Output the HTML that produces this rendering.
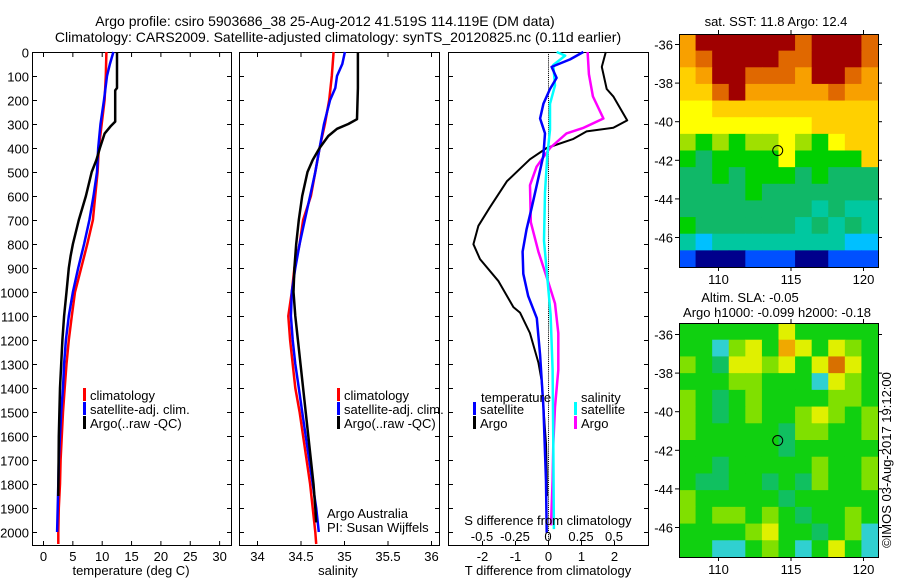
<!DOCTYPE html>
<html><head><meta charset="utf-8">
<style>
html,body{margin:0;padding:0;background:#fff;}
svg{display:block;font-family:"Liberation Sans",sans-serif;}
text{font-size:13px;fill:#000;}
</style></head>
<body>
<svg id="chart" width="900" height="580" viewBox="0 0 900 580" xmlns="http://www.w3.org/2000/svg">
<text x="325" y="26" text-anchor="middle" style="font-size:14px">Argo profile: csiro 5903686_38 25-Aug-2012 41.519S 114.119E (DM data)</text>
<text x="338" y="42" text-anchor="middle" style="font-size:14px">Climatology: CARS2009. Satellite-adjusted climatology: synTS_20120825.nc (0.11d earlier)</text>
<g id="g"></g>
</svg>
<script>
// ---- depth axis ----
const depthTicks=[0,100,200,300,400,500,600,700,800,900,1000,1100,1200,1300,1400,1500,1600,1700,1800,1900,2000];
// ---- temperature panel ----
const tempTicks=[0,5,10,15,20,25,30];
const tClimD=[0,100,200,300,400,500,600,700,800,900,1000,1100,1200,1300,1400,1500,1600,1700,1800,1900,2000,2050];
const tClimV=[10.8,10.7,10.5,10.0,9.5,9.3,8.9,8.5,7.55,6.5,5.45,4.9,4.4,4.0,3.7,3.4,3.2,3.0,2.9,2.7,2.6,2.6];
const tSatD=[0,50,100,200,300,400,500,600,700,800,900,1000,1100,1200,1300,1400,1500,1600,1700,1800,1900,2000];
const tSatV=[12.0,11.4,10.9,10.4,9.8,9.4,9.2,8.6,7.9,7.0,6.0,5.1,4.4,3.9,3.6,3.4,3.1,2.9,2.7,2.6,2.5,2.4];
const tArgD=[0,150,160,290,310,340,400,450,500,600,700,800,850,900,1000,1100,1200,1300,1400,1500,1600,1700,1850];
const tArgV=[12.6,12.6,12.3,12.3,11.5,10.5,9.7,9.1,8.3,7.3,6.1,5.1,4.7,4.4,4.0,3.6,3.3,3.1,2.9,2.8,2.7,2.65,2.6];
// ---- salinity panel ----
const salTicks=[34,34.5,35,35.5,36];
const sClimD=[0,100,200,300,400,500,600,700,800,900,1000,1100,1200,1300,1400,1500,1600,1700,1800,1900,2000,2050];
const sClimV=[34.88,34.86,34.83,34.78,34.72,34.67,34.62,34.53,34.49,34.43,34.40,34.36,34.38,34.41,34.44,34.49,34.53,34.57,34.61,34.64,34.67,34.68];
const sSatD=[0,50,100,150,200,300,400,500,600,700,800,900,1000,1100,1200,1300,1400,1500,1600,1700,1800,1900,2000];
const sSatV=[35.01,34.98,34.92,34.90,34.84,34.77,34.72,34.67,34.61,34.55,34.49,34.44,34.40,34.39,34.41,34.44,34.48,34.52,34.56,34.60,34.64,34.68,34.71];
const sArgD=[0,150,280,300,320,350,400,450,500,600,700,800,900,1000,1100,1200,1300,1400,1500,1600,1700,1800,1900,1960];
const sArgV=[35.16,35.16,35.15,35.05,34.92,34.82,34.72,34.64,34.58,34.52,34.48,34.45,34.43,34.42,34.44,34.47,34.50,34.53,34.56,34.59,34.62,34.65,34.67,34.68];
// ---- difference panel ----
const dTTicks=[-2,-1,0,1,2];
const dSTicks=[-0.5,-0.25,0,0.25,0.5];
const dTArgD=[0,62,154,185,285,316,331,362,400,447,539,647,724,801,863,955,1063,1086,1171,1294,1371,1479,1633,1741,1850];
const dTArgV=[1.75,1.63,1.78,1.98,2.4,1.98,1.17,0.77,-0.04,-0.55,-1.25,-1.76,-2.11,-2.26,-2.06,-1.5,-1.05,-0.85,-0.55,-0.29,-0.19,-0.14,-0.06,-0.04,-0.03];
const dTSatD=[0,31,62,108,154,216,277,339,431,524,647,740,832,924,1017,1109,1263,1479,1787,2003];
const dTSatV=[1.07,0.67,0.11,0.26,0.06,-0.14,-0.24,-0.09,-0.14,-0.29,-0.49,-0.65,-0.77,-0.75,-0.6,-0.34,-0.24,-0.14,-0.06,-0.04];
const dSArgD=[0,92,185,277,316,339,400,478,555,709,832,955,1048,1171,1325,1479,1633,1787,1972];
const dSArgV=[0.30,0.31,0.34,0.42,0.27,0.14,0.015,-0.086,-0.136,-0.13,-0.073,0,0.053,0.078,0.078,0.053,0.04,0.035,0.023];
const dSSatD=[0,15,54,139,216,324,431,585,786,940,1094,1325,1633,1988];
const dSSatV=[0.066,0.13,0.04,0.053,0.015,0.015,-0.005,-0.023,-0.03,-0.005,0.02,0.035,0.04,0.045];
// ---- maps ----
const lonTicks=[110,115,120];
const latTicks=[-36,-38,-40,-42,-44,-46];
const sstPalette=['#00008c','#0050ff','#00c0ff','#00c8a0','#10b868','#00d000','#a0e000','#ffff00','#ffd000','#f8a000','#e06800','#a00000'];
const sstGrid=[
[9,11,11,11,11,11,11,10,11,11,11,10],
[9,10,11,11,11,11,10,10,11,11,11,10],
[8,9,11,11,10,10,10,9,11,11,10,9],
[8,8,10,11,9,9,9,9,9,10,9,9],
[7,7,8,8,8,8,8,8,8,8,8,8],
[7,7,7,7,7,7,7,7,8,8,8,8],
[6,5,6,5,6,6,7,6,5,7,8,8],
[5,4,5,5,5,5,7,5,5,5,5,8],
[4,4,5,4,5,5,5,4,5,4,4,4],
[4,4,4,4,5,4,4,4,4,4,4,4],
[4,4,4,4,4,4,4,4,3,4,3,3],
[5,4,4,4,4,4,4,3,4,3,4,3],
[3,2,3,3,3,3,3,3,3,3,2,2],
[1,0,0,0,1,1,1,0,0,1,1,1]];
const slaPalette=['#30d0d0','#10c060','#10d010','#80e000','#e0f000','#f0a800','#d87000'];
const slaGrid=[
[2,2,2,2,2,2,4,2,2,2,2,2],
[2,2,0,3,4,2,5,4,2,4,3,2],
[3,2,1,4,4,3,4,2,4,6,4,2],
[2,2,2,3,3,2,2,2,0,4,3,2],
[3,2,1,2,3,2,2,2,2,3,3,2],
[3,2,1,2,3,2,2,3,4,3,2,3],
[3,2,2,2,2,2,1,3,3,2,2,3],
[2,2,2,2,2,2,1,2,2,2,2,2],
[2,2,1,2,2,2,2,2,3,2,2,3],
[2,1,1,2,2,1,2,1,3,2,2,3],
[3,2,2,2,2,2,1,2,2,2,2,2],
[3,2,3,3,2,3,2,1,2,2,3,2],
[2,2,2,2,3,4,2,2,1,2,3,0],
[2,2,0,0,2,3,2,0,2,4,2,0]];

const NS='http://www.w3.org/2000/svg';
const G=document.getElementById('g');
function mk(tag,attrs,parent){const e=document.createElementNS(NS,tag);for(const k in attrs)e.setAttribute(k,attrs[k]);(parent||G).appendChild(e);return e;}
function txt(x,y,s,anchor,parent){const t=mk('text',{x:x,y:y,'text-anchor':anchor||'start'},parent);t.textContent=s;return t;}

const TOP=52,BOT=545;
const yD=d=>TOP+d*0.24;
const xT=v=>43+v*5.87;
const xS=v=>257+(v-34)*87;
const xDT=v=>548+v*33;
const xDS=v=>548+v*132;

function panel(x0,x1,name,yLabels){
  const r=mk('rect',{x:x0+0.5,y:TOP+0.5,width:x1-x0,height:BOT-TOP,fill:'none',stroke:'#000','stroke-width':1});
  
  
  depthTicks.forEach(d=>{
    const y=yD(d)+0.5;
    mk('line',{x1:x0,y1:y,x2:x0+5,y2:y,stroke:'#000'});
    mk('line',{x1:x1-4,y1:y,x2:x1+1,y2:y,stroke:'#000'});
    if(yLabels){const t=txt(x0-3,y+5,String(d),'end');
      
      }
  });
}
function xticks(vals,fx,y,labelY,labels,top){
  vals.forEach((v,i)=>{const x=fx(v)+0.5;
    mk('line',{x1:x,y1:BOT-4,x2:x,y2:BOT+1,stroke:'#000'});
    if(top) mk('line',{x1:x,y1:TOP,x2:x,y2:TOP+5,stroke:'#000'});
    const t=txt(x,labelY,labels?labels[i]:String(v),'middle');
    
    
  });
}
function line(D,V,fx,color,w,name){
  const pts=D.map((d,i)=>fx(V[i]).toFixed(1)+','+yD(d).toFixed(1)).join(' ');
  const p=mk('polyline',{points:pts,fill:'none',stroke:color,'stroke-width':w,'stroke-linejoin':'round'});
  
  
}
function legendEntry(x,y,color,label,name){
  const g=mk('g',{});
  
  
  mk('rect',{x:x,y:y-10,width:3,height:13,fill:color},g);
  txt(x+7,y+2,label,'start',g);
}

// Panel 1
panel(32,231,'temperature-panel',true);
xticks(tempTicks,xT,0,561,null,true);
line(tClimD,tClimV,xT,'#ff0000',2.5,'temp-climatology-line');
line(tSatD,tSatV,xT,'#0000ff',2.5,'temp-satellite-line');
line(tArgD,tArgV,xT,'#000000',2.5,'temp-argo-line');
let t=txt(131,575,'temperature (deg C)','middle');
legendEntry(83,398,'#ff0000','climatology','legend-climatology');
legendEntry(83,412,'#0000ff','satellite-adj. clim.','legend-satellite');
legendEntry(83,426,'#000000','Argo(..raw -QC)','legend-argo');

// Panel 2
panel(239,439,'salinity-panel',false);
xticks(salTicks,xS,0,561,null,true);
line(sClimD,sClimV,xS,'#ff0000',2.5,'sal-climatology-line');
line(sSatD,sSatV,xS,'#0000ff',2.5,'sal-satellite-line');
line(sArgD,sArgV,xS,'#000000',2.5,'sal-argo-line');
t=txt(338,575,'salinity','middle');
legendEntry(337,398,'#ff0000','climatology','legend-climatology-2');
legendEntry(337,412,'#0000ff','satellite-adj. clim.','legend-satellite-2');
legendEntry(337,426,'#000000','Argo(..raw -QC)','legend-argo-2');
t=txt(327,518,'Argo Australia');
t=txt(327,532,'PI: Susan Wijffels');

// Panel 3
panel(448,648,'difference-panel',false);
xticks(dTTicks,xDT,0,561,null,false);
for(let d=0;d<=2050;d+=8){mk('rect',{x:xDT(0),y:yD(d),width:1,height:1,fill:'#000'});}
line(dTArgD,dTArgV,xDT,'#000000',2,'tdiff-argo-line');
line(dSArgD,dSArgV,xDS,'#ff00ff',2.5,'sdiff-argo-line');
line(dSSatD,dSSatV,xDS,'#00ffff',2.5,'sdiff-satellite-line');
line(dTSatD,dTSatV,xDT,'#0000ff',2.5,'tdiff-satellite-line');
dSTicks.forEach(v=>{const tt=txt(xDS(v),541,String(v),'middle');});
t=txt(548,525,'S difference from climatology','middle');
t=txt(548,575,'T difference from climatology','middle');
t=txt(481,402,'temperature');
t=txt(581,402,'salinity');
legendEntry(473,412,'#0000ff','satellite','legend-t-satellite');
legendEntry(473,426,'#000000','Argo','legend-t-argo');
legendEntry(574,412,'#00ffff','satellite','legend-s-satellite');
legendEntry(574,426,'#ff00ff','Argo','legend-s-argo');

// Maps
function map(y0,y1,grid,pal,name,latPx36,latPx46){
  const x0=679,x1=878,W=x1-x0,H=y1-y0;
  const rows=grid.length,cols=grid[0].length;
  const cw=W/cols,ch=H/rows;
  grid.forEach((row,r)=>row.forEach((c,k)=>{
    const cell=mk('rect',{x:(x0+k*cw).toFixed(2),y:(y0+r*ch).toFixed(2),width:(cw+0.6).toFixed(2),height:(ch+0.6).toFixed(2),fill:pal[c]});
    
    
  }));
  const fr=mk('rect',{x:x0+0.5,y:y0+0.5,width:W,height:H,fill:'none',stroke:'#000'});
  
  
  const xL=v=>718+(v-110)*14.5;
  const yL=v=>latPx36+(v+36)*(latPx46-latPx36)/(-10);
  lonTicks.forEach(v=>{const x=xL(v)+0.5;
    mk('line',{x1:x,y1:y0-4,x2:x,y2:y0,stroke:'#000'});
    mk('line',{x1:x,y1:y1,x2:x,y2:y1+4,stroke:'#000'});
    const tt=txt(x,y1+17,String(v),'middle');});
  latTicks.forEach(v=>{const y=yL(v)+0.5;
    mk('line',{x1:x0-4,y1:y,x2:x0,y2:y,stroke:'#000'});
    mk('line',{x1:x1,y1:y,x2:x1+4,y2:y,stroke:'#000'});
    const tt=txt(x0-6,y+5,String(v),'end');});
  const c=mk('circle',{cx:xL(114.119),cy:yL(-41.519),r:5,fill:'none',stroke:'#000','stroke-width':1});
  
  
}
map(34,267,sstGrid,sstPalette,'sst-map',44,237);
map(323,557,slaGrid,slaPalette,'sla-map',334,527);
t=txt(776,26,'sat. SST: 11.8 Argo: 12.4','middle');
t=txt(750,302,'Altim. SLA: -0.05','middle');
t=txt(777,317,'Argo h1000: -0.099 h2000: -0.18','middle');
t=txt(0,0,'©IMOS 03-Aug-2017 19:12:00','middle');
t.setAttribute('transform','translate(891,460) rotate(-90)');


</script>
</body></html>
